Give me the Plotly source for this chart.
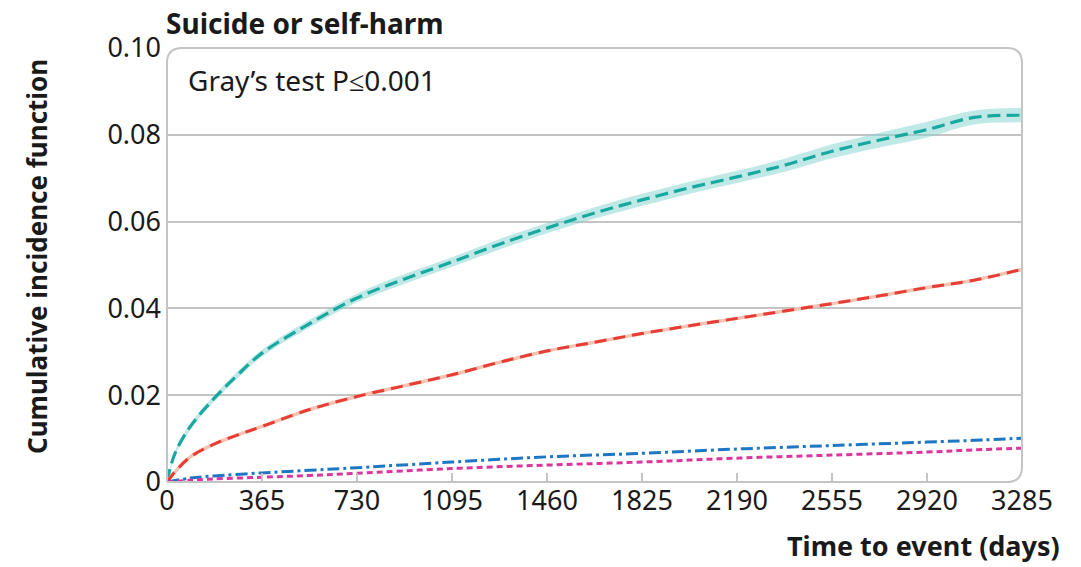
import plotly.graph_objects as go

# ---- data ----
days_a = [0, 30, 90, 180, 270, 365, 548, 730, 913, 1095, 1278, 1460, 1643, 1825,
          2008, 2190, 2373, 2555, 2738, 2920, 3100, 3285]
teal_cif = [0, 0.0065, 0.0128, 0.0192, 0.0246, 0.0297, 0.0365, 0.0424, 0.0468, 0.0507,
            0.0548, 0.0585, 0.0620, 0.0650, 0.0678, 0.0703, 0.0730, 0.0762, 0.0788,
            0.0812, 0.0840, 0.0845]
teal_lo = [0, 0.0059, 0.0121, 0.0185, 0.0238, 0.0289, 0.0356, 0.0414, 0.0457, 0.0496,
           0.0536, 0.0573, 0.0607, 0.0636, 0.0664, 0.0689, 0.0715, 0.0746, 0.0771,
           0.0794, 0.0824, 0.0829]
teal_hi = [0, 0.0071, 0.0135, 0.0199, 0.0254, 0.0305, 0.0374, 0.0434, 0.0479, 0.0518,
           0.0560, 0.0597, 0.0633, 0.0664, 0.0692, 0.0717, 0.0745, 0.0778, 0.0805,
           0.0830, 0.0856, 0.0862]
red_cif = [0, 0.0023, 0.0058, 0.0087, 0.0108, 0.0128, 0.0167, 0.0197, 0.0222, 0.0247,
           0.0276, 0.0302, 0.0322, 0.0342, 0.0360, 0.0377, 0.0394, 0.0411, 0.0429,
           0.0448, 0.0465, 0.0490]

days_b = [0, 90, 180, 365, 548, 730, 1095, 1460, 1825, 2190, 2555, 2920, 3100, 3285]
blue_cif = [0, 0.0009, 0.0014, 0.0021, 0.0027, 0.0033, 0.0046, 0.0058, 0.0066, 0.0076,
            0.0084, 0.0092, 0.0096, 0.0101]
magenta_cif = [0, 0.0004, 0.0007, 0.0011, 0.0015, 0.0020, 0.0031, 0.0039, 0.0046, 0.0055,
               0.0062, 0.0069, 0.0074, 0.0078]

x_ticks = [0, 365, 730, 1095, 1460, 1825, 2190, 2555, 2920, 3285]
y_ticks = [0, 0.02, 0.04, 0.06, 0.08, 0.10]
y_tick_text = ["0", "0.02", "0.04", "0.06", "0.08", "0.10"]

FONT = "Noto Sans"
GRID = "#c4c4c4"
TXT = "#1a1a1a"

fig = go.Figure()

# teal confidence band
fig.add_trace(go.Scatter(x=days_a, y=teal_lo, mode="lines", line=dict(width=0),
                         showlegend=False, hoverinfo="skip", line_shape="spline"))
fig.add_trace(go.Scatter(x=days_a, y=teal_hi, mode="lines", line=dict(width=0),
                         fill="tonexty", fillcolor="rgba(130,210,205,0.5)",
                         showlegend=False, hoverinfo="skip", line_shape="spline"))
fig.add_trace(go.Scatter(x=days_a, y=teal_cif, mode="lines", line_shape="spline",
                         line=dict(color="#17a9a0", width=3.2, dash="13px,6px"),
                         showlegend=False))

# red: faint band line + dashed line
fig.add_trace(go.Scatter(x=days_a, y=red_cif, mode="lines", line_shape="spline",
                         line=dict(color="#f9c2b2", width=3.5), showlegend=False,
                         hoverinfo="skip"))
fig.add_trace(go.Scatter(x=days_a, y=red_cif, mode="lines", line_shape="spline",
                         line=dict(color="#e63e35", width=3, dash="12px,7px"),
                         showlegend=False))

fig.add_trace(go.Scatter(x=days_b, y=blue_cif, mode="lines", line_shape="spline",
                         line=dict(color="#1f76c4", width=3, dash="12px,4px,3px,4px"),
                         showlegend=False))
fig.add_trace(go.Scatter(x=days_b, y=magenta_cif, mode="lines", line_shape="spline",
                         line=dict(color="#d8369c", width=3, dash="6px,4px"),
                         showlegend=False))

# rounded frame
rx = 15 / 855
ry = 15 / 434
path = (f"M 0,0 L 0,{1-ry} Q 0,1 {rx},1 L {1-rx},1 Q 1,1 1,{1-ry} "
        f"L 1,{ry} Q 1,0 {1-rx},0 L 0,0")
fig.add_shape(type="path", path=path, xref="paper", yref="paper",
              line=dict(color=GRID, width=2), layer="above")

fig.update_layout(
    width=1081, height=567,
    margin=dict(l=167, r=59, t=48, b=85),
    paper_bgcolor="white", plot_bgcolor="white",
    font=dict(family=FONT, color=TXT),
    xaxis=dict(range=[0, 3285], tickvals=x_ticks, ticktext=[str(v) for v in x_ticks],
               showgrid=False, zeroline=False, showline=False,
               ticks="inside", ticklen=9, tickwidth=1.5, tickcolor=GRID,
               tickfont=dict(size=27, family=FONT, color=TXT)),
    yaxis=dict(range=[0, 0.1], tickvals=y_ticks, ticktext=y_tick_text,
               showgrid=True, gridcolor=GRID, gridwidth=2, zeroline=False,
               showline=False, ticks="", ticklabelstandoff=5,
               tickfont=dict(size=27, family=FONT, color=TXT)),
    annotations=[
        dict(text="<b>Suicide or self-harm</b>", xref="paper", yref="paper",
             x=-0.003, y=1.0, xanchor="left", yanchor="bottom", yshift=4,
             showarrow=False, font=dict(size=28, family=FONT, color=TXT)),
        dict(text="Gray’s test P≤0.001", xref="paper", yref="paper",
             x=(186 - 167) / 855, y=(482 - 80) / 434, xanchor="left", yanchor="middle",
             showarrow=False, font=dict(size=28, family=FONT, color=TXT)),
        dict(text="<b>Cumulative incidence function</b>", xref="paper", yref="paper",
             x=(37 - 167) / 855, y=(482 - 257) / 434, xanchor="center", yanchor="middle",
             textangle=-90, showarrow=False,
             font=dict(size=26, family=FONT, color=TXT)),
        dict(text="<b>Time to event (days)</b>", xref="paper", yref="paper",
             x=(1062 - 167) / 855, y=(482 - 566) / 434, xanchor="right", yanchor="bottom",
             showarrow=False, font=dict(size=27, family=FONT, color=TXT)),
    ],
)

fig.write_html("out.html")
